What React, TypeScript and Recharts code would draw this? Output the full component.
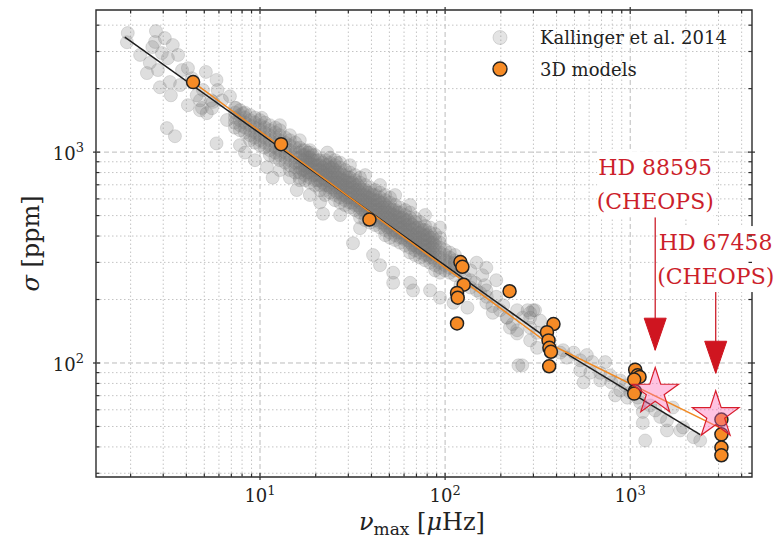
import React from 'react';
import { ScatterChart, Scatter, XAxis, YAxis, ReferenceLine, ReferenceArea } from 'recharts';

const W = 776;
const H = 543;
const PLOT_W = 656;
const PLOT_H = 467;
const FONT = '"DejaVu Serif", "Liberation Serif", serif';
const INK = '#222222';
const RED = '#cc1f2b';
const ORANGE = '#f68b26';
const GRAY = '#7a7a7a';

const X_DOMAIN: [number, number] = [1.3, 4550];
const Y_DOMAIN: [number, number] = [28.8, 4720];

const xMajor = [10, 100, 1000];
const xMinor = [2, 3, 4, 5, 6, 7, 8, 9, 20, 30, 40, 50, 60, 70, 80, 90, 200, 300, 400, 500, 600, 700, 800, 900, 2000, 3000, 4000];
const yMajor = [100, 1000];
const yMinor = [30, 40, 50, 60, 70, 80, 90, 200, 300, 400, 500, 600, 700, 800, 900, 2000, 3000, 4000];

const legendLabels = ['Kallinger et al. 2014', '3D models'];

// Kallinger et al. 2014 — low numax giants, loosely scattered
const kallingerSparse: [number, number][] = [
  [1.93, 3670], [1.91, 3320], [2.74, 3750], [2.71, 3330], [2.62, 3150], [3.38, 3220], [2.95, 2950],
  [3.18, 2790], [3.61, 2890], [2.54, 2650], [2.81, 2450], [2.45, 2370], [2.88, 2030], [3.3, 1860],
  [3.26, 2150], [3.79, 2450], [4.08, 2500], [3.7, 2080], [4.08, 1670], [4.55, 1860], [4.92, 1970],
  [4.86, 1620], [5.82, 2200], [5.9, 1970], [5.57, 1730], [5.16, 1530], [3.14, 1300], [3.47, 1190],
  [5.82, 1100], [6.63, 1420], [7.41, 1620], [8.09, 1530], [2.25, 2890], [3.06, 3475], [4.29, 2240],
  [5.1, 2400], [6.23, 1760], [6.88, 1840], [4.74, 1760], [5.45, 1760], [4.74, 1580], [5.5, 1615],
];

// red-giant band: numax column -> sigma values
const kallingerBand: [number, number[]][] = [
  [7.32, [1625, 1539, 1457, 1380, 1306]],
  [7.79, [1581, 1497, 1418, 1342, 1271]],
  [8.29, [1539, 1457, 1380, 1306, 1237]],
  [8.83, [1497, 1418, 1342, 1271, 1203, 1139]],
  [9.39, [1457, 1380, 1306, 1237, 1171, 1109]],
  [10.0, [1418, 1342, 1271, 1203, 1139, 1079]],
  [10.6, [1380, 1306, 1237, 1171, 1109, 1050]],
  [11.3, [1342, 1271, 1203, 1139, 1079, 1022, 968]],
  [12.1, [1306, 1237, 1171, 1109, 1050, 995, 942]],
  [12.8, [1271, 1203, 1139, 1079, 1022, 968, 916]],
  [13.7, [1171, 1109, 1050, 995, 942, 891]],
  [14.5, [1139, 1079, 1022, 968, 916, 867, 822]],
  [15.5, [1109, 1050, 995, 942, 891, 845, 800]],
  [16.4, [1050, 995, 942, 891, 845, 800, 757]],
  [17.5, [1022, 968, 916, 867, 822, 778, 736]],
  [18.6, [995, 942, 891, 845, 800, 757, 717]],
  [19.8, [968, 916, 867, 822, 778, 736, 698]],
  [21.1, [916, 867, 822, 778, 736, 698, 661]],
  [22.5, [916, 867, 822, 778, 736, 698, 661, 626]],
  [23.9, [942, 891, 845, 800, 757, 717, 679, 643]],
  [25.4, [916, 867, 822, 778, 736, 698, 661, 626, 592]],
  [27.1, [891, 845, 800, 757, 717, 679, 643, 609, 576]],
  [28.8, [822, 778, 736, 698, 661, 626, 592, 561]],
  [30.6, [800, 757, 717, 679, 643, 609, 576, 546]],
  [32.6, [778, 736, 698, 661, 626, 592, 561, 531]],
  [34.7, [757, 717, 679, 643, 609, 576, 546, 517, 489]],
  [37.0, [698, 661, 626, 592, 561, 531, 503, 476]],
  [39.3, [679, 643, 609, 576, 546, 517, 489, 463]],
  [41.9, [661, 626, 592, 561, 531, 503, 476, 451]],
  [44.5, [643, 609, 576, 546, 517, 489, 463, 439]],
  [47.4, [626, 592, 561, 531, 503, 476, 451, 427, 404]],
  [50.4, [609, 576, 546, 517, 489, 463, 439, 415, 393]],
  [53.7, [561, 531, 503, 476, 451, 427, 404, 383]],
  [57.1, [546, 517, 489, 463, 439, 415, 393, 372]],
  [60.8, [531, 503, 476, 451, 427, 404, 383, 362]],
  [64.7, [517, 489, 463, 439, 415, 393, 372, 352, 334]],
  [68.8, [487, 466, 437, 404, 383, 362, 343, 325]],
  [73.2, [466, 439, 415, 393, 372, 352, 334, 316]],
  [77.9, [446, 427, 404, 383, 362, 343, 325, 307]],
  [82.9, [439, 415, 393, 372, 352, 334, 316, 299]],
  [88.3, [409, 383, 362, 343, 325, 307, 291, 275]],
  [93.9, [392, 372, 352, 334, 316, 299, 283, 268]],
  [100, [343, 325, 307, 291, 275]],
  [106, [334, 316, 299, 283, 268]],
  [113, [325, 307, 291, 275, 261]],
];

// the crowded middle of the band (17–86 µHz)
const kallingerCore: [number, number[]][] = [
  [17.0, [1022, 968, 916, 867, 822]],
  [18.1, [995, 942, 891, 845, 800]],
  [19.2, [968, 916, 867, 822, 778]],
  [20.5, [916, 867, 822, 778, 736]],
  [21.8, [891, 845, 800, 757, 717]],
  [23.2, [867, 822, 778, 736, 698]],
  [24.6, [845, 800, 757, 717, 679]],
  [26.2, [800, 757, 717, 679, 643]],
  [27.9, [778, 736, 698, 661, 626]],
  [29.7, [757, 717, 679, 643, 609]],
  [31.6, [717, 679, 643, 609, 576]],
  [33.7, [698, 661, 626, 592, 561]],
  [35.8, [661, 626, 592, 561, 531]],
  [38.1, [643, 609, 576, 546, 517]],
  [40.6, [626, 592, 561, 531, 503]],
  [43.2, [592, 561, 531, 503, 476]],
  [45.9, [576, 546, 517, 489, 463]],
  [48.9, [546, 517, 489, 463, 439]],
  [52.0, [531, 503, 476, 451, 427]],
  [55.4, [517, 489, 463, 439, 415]],
  [58.9, [489, 463, 439, 415, 393]],
  [62.7, [476, 451, 427, 404, 383]],
  [66.7, [451, 427, 404, 383, 362]],
  [71.0, [439, 415, 393, 372, 352]],
  [75.6, [427, 404, 383, 362, 343]],
  [80.4, [404, 383, 362, 343, 325]],
  [85.6, [393, 372, 352, 334, 316]],
];

// stars above and below the band
const kallingerFringe: [number, number][] = [
  [10.9, 848], [11.7, 757], [12.8, 822], [14.5, 757], [15.8, 661], [21.1, 578], [21.9, 510], [27.1, 503],
  [31.8, 370], [34.7, 436], [40.8, 325], [44.5, 291], [52.4, 268], [52.4, 240], [64.7, 240], [67.1, 221],
  [82.9, 221], [16.4, 736], [18.6, 626], [9.39, 916], [7.79, 1079], [8.29, 995],
  [10.2, 1455], [12.8, 1342], [14.5, 1203], [16.4, 1139], [18.6, 1022], [23.1, 995], [26.0, 891],
  [30.6, 867], [37.0, 778], [44.5, 698], [53.7, 626], [64.7, 561], [77.9, 503], [93.9, 439],
];

// high numax stars (late giants and main sequence)
const kallingerDwarfs: [number, number][] = [
  [137, 247], [159, 261], [148, 221], [167, 221], [189, 206], [206, 188], [245, 178], [279, 178],
  [299, 178], [288, 164], [216, 164], [181, 173], [224, 147], [245, 138], [167, 193], [132, 183],
  [111, 193], [93.9, 204], [167, 283], [189, 247], [148, 299], [137, 275],
  [113, 299], [121, 275], [121, 234], [128, 254], [137, 228], [145, 240], [155, 215], [164, 234],
  [168, 206], [180, 186], [198, 178], [216, 164], [232, 153], [245, 143], [262, 164], [288, 173],
  [306, 178], [326, 159], [288, 147], [314, 139], [261, 97.5], [419, 112], [455, 106], [537, 103],
  [583, 109], [624, 101], [733, 101], [537, 92.3], [608, 90], [560, 81], [689, 82.7], [790, 81],
  [883, 74.1], [965, 68.5], [829, 70.2], [1040, 71.5], [1132, 65], [1170, 58.6], [1452, 55.5],
  [1580, 53.4], [1170, 52], [1580, 47.9], [1862, 47.9], [2200, 44.5], [2388, 42.9], [1205, 42.9],
  [1930, 49.5], [1700, 61.5], [883, 82.7], [939, 78.3], [1000, 72.5], [1100, 68.5], [1283, 62.9],
  [1365, 59.6], [779, 87.4], [689, 89.8], [288, 128], [314, 118], [434, 115], [495, 112], [249, 97.5],
];

const models3D: [number, number][] = [
  [4.35, 2148], [13.0, 1091], [39.0, 479], [121, 301], [124, 286], [126, 235], [116, 215], [117, 204],
  [116, 154], [223, 219], [385, 153], [355, 140], [362, 128], [366, 118], [373, 113], [365, 96.5],
  [1064, 93], [1096, 87.4], [1123, 85.9], [1051, 83.4], [1060, 73.5], [1051, 71.6],
  [3110, 53.9], [3110, 45.9], [3110, 39.7], [3110, 36.5],
];

const fitGiants: [number, number][] = [[1.86, 3514], [360, 130.2]];
const fitDwarfs: [number, number][] = [[445, 111.6], [2388, 45.7]];
const fit3D: [number, number][] = [[4.35, 2148], [360, 124], [3400, 47]];

const cheopsNames = ['HD 88595', 'HD 67458'];
const cheopsNu = [1365, 2897];
const cheopsSigma = [73, 56.5];
const arrowTailSigma = [491, 217];
const arrowTipSigma = [115, 89.4];

const pts = (arr: [number, number][]) => arr.map(([nu, sigma]) => ({ nu, sigma }));
const columns = (arr: [number, number[]][]) => arr.flatMap(([nu, list]) => list.map((sigma) => ({ nu, sigma })));

const kallinger = [
  ...pts(kallingerSparse),
  ...columns(kallingerBand),
  ...columns(kallingerCore),
  ...pts(kallingerFringe),
  ...pts(kallingerDwarfs),
];

const stars = cheopsNu.map((nu, i) => ({ nu, sigma: cheopsSigma[i] }));
const arrows = cheopsNu.map((nu, i) => [
  { nu, sigma: arrowTailSigma[i] },
  { nu, sigma: arrowTipSigma[i], head: true },
]);
const notes = cheopsNu.map((nu, i) => ({ nu, sigma: arrowTailSigma[i], name: cheopsNames[i] }));

const noMarker = () => <g />;

const grayDot = (p: any) => (
  <circle cx={p.cx} cy={p.cy} r={6.5} fill={GRAY} fillOpacity={0.25} stroke={GRAY} strokeOpacity={0.22} strokeWidth={1} />
);

const orangeDot = (p: any) => (
  <circle cx={p.cx} cy={p.cy} r={6.5} fill={ORANGE} stroke={INK} strokeWidth={1.5} />
);

const starShape = (p: any) => {
  const R = 24.5;
  const pts: string[] = [];
  for (let i = 0; i < 10; i++) {
    const a = -Math.PI / 2 + (i * Math.PI) / 5;
    const r = i % 2 === 0 ? R : R * 0.382;
    pts.push(`${p.cx + r * Math.cos(a)},${p.cy + r * Math.sin(a)}`);
  }
  return <polygon points={pts.join(' ')} fill="#ff69b4" fillOpacity={0.4} stroke="#d81e2c" strokeWidth={1.2} />;
};

const arrowHead = (p: any) => {
  if (!p.payload.head) return <g />;
  const { cx, cy } = p;
  return <polygon points={`${cx - 11},${cy - 32} ${cx + 11},${cy - 32} ${cx},${cy}`} fill="#cf1520" stroke="#cf1520" />;
};

const noteShape = (p: any) => {
  const { cx, cy } = p;
  return (
    <g>
      <rect x={cx - 58} y={cy - 66} width={116} height={66} fill="#ffffff" />
      <text x={cx} y={cy - 42} textAnchor="middle" fontFamily={FONT} fontSize={22} fill={RED}>{p.payload.name}</text>
      <text x={cx} y={cy - 8} textAnchor="middle" fontFamily={FONT} fontSize={22} fill={RED}>(CHEOPS)</text>
    </g>
  );
};

const tickStroke = { stroke: '#2b2b2b', strokeWidth: 1.2 };

const XTick = (props: any) => {
  const { x, y, payload } = props;
  const v = payload.value;
  const top = y - PLOT_H;
  if (xMajor.includes(v)) {
    return (
      <g>
        <line x1={x} x2={x} y1={y - 4} y2={y + 3} {...tickStroke} />
        <line x1={x} x2={x} y1={top - 3} y2={top + 4} {...tickStroke} />
        <text x={x} y={y + 25} textAnchor="middle" fontFamily={FONT} fontSize={18} fill={INK}>
          10<tspan dy={-7} fontSize={13}>{Math.round(Math.log10(v))}</tspan>
        </text>
      </g>
    );
  }
  return (
    <g>
      <line x1={x} x2={x} y1={y - 3.5} y2={y} {...tickStroke} />
      <line x1={x} x2={x} y1={top} y2={top + 3.5} {...tickStroke} />
    </g>
  );
};

const YTick = (props: any) => {
  const { x, y, payload } = props;
  const v = payload.value;
  const right = x + PLOT_W;
  if (yMajor.includes(v)) {
    return (
      <g>
        <line x1={x - 3} x2={x + 4} y1={y} y2={y} {...tickStroke} />
        <line x1={right - 4} x2={right + 3} y1={y} y2={y} {...tickStroke} />
        <text x={x - 12} y={y + 8} textAnchor="end" fontFamily={FONT} fontSize={18} fill={INK}>
          10<tspan dy={-8} fontSize={13}>{Math.round(Math.log10(v))}</tspan>
        </text>
      </g>
    );
  }
  return (
    <g>
      <line x1={x} x2={x + 3.5} y1={y} y2={y} {...tickStroke} />
      <line x1={right - 3.5} x2={right} y1={y} y2={y} {...tickStroke} />
    </g>
  );
};

const XTitle = (props: any) => {
  const vb = props.viewBox || { x: 96, y: 477, width: PLOT_W };
  return (
    <text x={vb.x + vb.width / 2 - 2} y={vb.y + 53} textAnchor="middle" fontFamily={FONT} fontSize={24} fill={INK} style={{ whiteSpace: 'pre' }}>
      <tspan fontStyle="italic">ν</tspan>
      <tspan fontSize={17} dy={5}>max</tspan>
      <tspan dy={-5}> [</tspan>
      <tspan fontStyle="italic">μ</tspan>
      <tspan>Hz]</tspan>
    </text>
  );
};

const YTitle = (props: any) => {
  const vb = props.viewBox || { x: 36, y: 10, height: PLOT_H };
  const x = 39;
  const y = vb.y + vb.height / 2;
  return (
    <text transform={`rotate(-90 ${x} ${y})`} x={x} y={y} textAnchor="middle" fontFamily={FONT} fontSize={24} fill={INK} style={{ whiteSpace: 'pre' }}>
      <tspan fontStyle="italic">σ</tspan>
      <tspan> [ppm]</tspan>
    </text>
  );
};

const Legend2 = () => (
  <svg width={W} height={H} style={{ position: 'absolute', left: 0, top: 0, pointerEvents: 'none' }}>
    <circle cx={500} cy={37.5} r={7} fill={GRAY} fillOpacity={0.2} stroke={GRAY} strokeOpacity={0.25} />
    <text x={540} y={44} fontFamily={FONT} fontSize={18} fill={INK}>{legendLabels[0]}</text>
    <circle cx={500} cy={69} r={7} fill={ORANGE} stroke={INK} strokeWidth={1.4} />
    <text x={540} y={76} fontFamily={FONT} fontSize={18} fill={INK}>{legendLabels[1]}</text>
  </svg>
);

export default function App() {
  return (
    <div style={{ position: 'absolute', left: 0, top: 0, width: W, height: H, background: '#fff' }}>
      <ScatterChart width={W} height={H} margin={{ top: 10, right: 24, bottom: 26, left: 36 }}>
        <XAxis
          dataKey="nu"
          type="number"
          scale="log"
          domain={X_DOMAIN}
          ticks={[...xMinor, ...xMajor]}
          interval={0}
          tick={<XTick />}
          tickSize={0}
          tickMargin={0}
          tickLine={false}
          axisLine={false}
          height={40}
          label={<XTitle />}
        />
        <YAxis
          dataKey="sigma"
          type="number"
          scale="log"
          domain={Y_DOMAIN}
          ticks={[...yMinor, ...yMajor]}
          interval={0}
          tick={<YTick />}
          tickSize={0}
          tickMargin={0}
          tickLine={false}
          axisLine={false}
          width={60}
          label={<YTitle />}
        />
        {xMinor.map((v) => (
          <ReferenceLine key={`xm${v}`} x={v} stroke="#c4c4c4" strokeWidth={1} strokeDasharray="1.5 2.5" />
        ))}
        {yMinor.map((v) => (
          <ReferenceLine key={`ym${v}`} y={v} stroke="#c4c4c4" strokeWidth={1} strokeDasharray="1.5 2.5" />
        ))}
        {xMajor.map((v) => (
          <ReferenceLine key={`xM${v}`} x={v} stroke="#bcbcbc" strokeWidth={1} strokeDasharray="5 3" />
        ))}
        {yMajor.map((v) => (
          <ReferenceLine key={`yM${v}`} y={v} stroke="#bcbcbc" strokeWidth={1} strokeDasharray="5 3" />
        ))}
        <Scatter data={kallinger} shape={grayDot} isAnimationActive={false} />
        <Scatter data={pts(fitGiants)} line={{ stroke: '#1e1e1e', strokeWidth: 1.5 }} shape={noMarker} isAnimationActive={false} />
        <Scatter data={pts(fitDwarfs)} line={{ stroke: '#1e1e1e', strokeWidth: 1.5 }} shape={noMarker} isAnimationActive={false} />
        <Scatter data={pts(fit3D)} line={{ stroke: '#f08a24', strokeWidth: 1.5 }} shape={noMarker} isAnimationActive={false} />
        <Scatter data={pts(models3D)} shape={orangeDot} isAnimationActive={false} />
        <Scatter data={stars} shape={starShape} isAnimationActive={false} />
        {arrows.map((a, i) => (
          <Scatter key={`ar${i}`} data={a} line={{ stroke: RED, strokeWidth: 1.3 }} shape={arrowHead} isAnimationActive={false} />
        ))}
        <ReferenceArea
          x1={X_DOMAIN[0]}
          x2={X_DOMAIN[1]}
          y1={Y_DOMAIN[0]}
          y2={Y_DOMAIN[1]}
          ifOverflow="visible"
          fill="none"
          fillOpacity={0}
          stroke="#2b2b2b"
          strokeWidth={1.4}
        />
        <Scatter data={notes} shape={noteShape} isAnimationActive={false} />
      </ScatterChart>
      <Legend2 />
    </div>
  );
}
